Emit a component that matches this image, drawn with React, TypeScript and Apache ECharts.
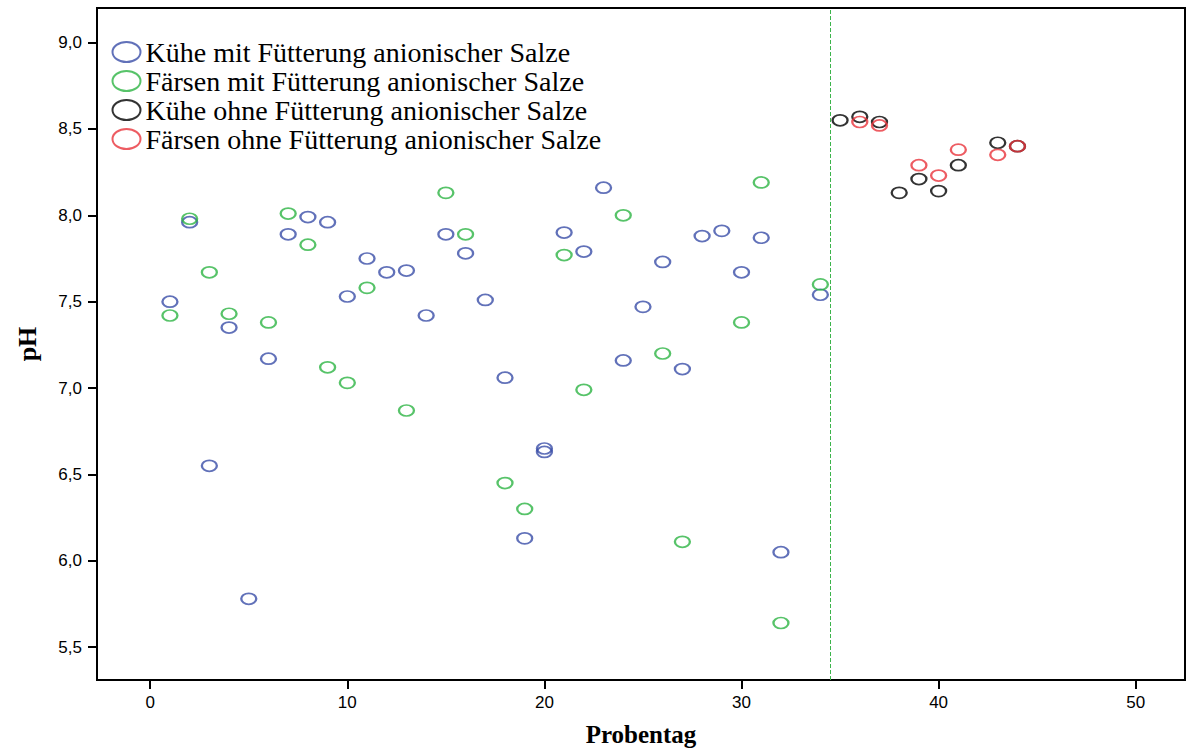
import React, { useEffect, useRef } from "react";
import * as echarts from "echarts";

// Data: [Probentag, pH]
const kueheMit: [number, number][] = [
  [1, 7.5], [2, 7.96], [3, 6.55], [4, 7.35], [5, 5.78], [6, 7.17], [7, 7.89], [8, 7.99],
  [9, 7.96], [10, 7.53], [11, 7.75], [12, 7.67], [13, 7.68], [14, 7.42], [15, 7.89],
  [16, 7.78], [17, 7.51], [18, 7.06], [19, 6.13], [20, 6.65], [20, 6.63], [21, 7.9],
  [22, 7.79], [23, 8.16], [24, 7.16], [25, 7.47], [26, 7.73], [27, 7.11], [28, 7.88],
  [29, 7.91], [30, 7.67], [31, 7.87], [32, 6.05], [34, 7.54],
];
const faersenMit: [number, number][] = [
  [1, 7.42], [2, 7.98], [3, 7.67], [4, 7.43], [6, 7.38], [7, 8.01], [8, 7.83], [9, 7.12],
  [10, 7.03], [11, 7.58], [13, 6.87], [15, 8.13], [16, 7.89], [18, 6.45], [19, 6.3],
  [21, 7.77], [22, 6.99], [24, 8.0], [26, 7.2], [27, 6.11], [30, 7.38], [31, 8.19],
  [32, 5.64], [34, 7.6],
];
const kueheOhne: [number, number][] = [
  [35, 8.55], [36, 8.57], [37, 8.54], [38, 8.13], [39, 8.21], [40, 8.14], [41, 8.29],
  [43, 8.42], [44, 8.4],
];
const faersenOhne: [number, number][] = [
  [36, 8.54], [37, 8.52], [39, 8.29], [40, 8.23], [41, 8.38], [43, 8.35], [44, 8.4],
];
const seriesNames = [
  "Kühe mit Fütterung anionischer Salze",
  "Färsen mit Fütterung anionischer Salze",
  "Kühe ohne Fütterung anionischer Salze",
  "Färsen ohne Fütterung anionischer Salze",
];
const xTicks = [0, 10, 20, 30, 40, 50];
const yTicks = [5.5, 6.0, 6.5, 7.0, 7.5, 8.0, 8.5, 9.0];
const cutoffDay = 34.5;

const colors = ["#3a4ea8", "#2db443", "#000000", "#e8333b"];
const ellipse = "path://M0,5A7,5 0 1,1 14,5A7,5 0 1,1 0,5Z";

export default function App() {
  const ref = useRef<HTMLDivElement>(null);
  useEffect(() => {
    if (!ref.current) return;
    const chart = echarts.init(ref.current, undefined, { renderer: "svg" });
    const datasets = [kueheMit, faersenMit, kueheOhne, faersenOhne];
    const series: any[] = datasets.map((d, i) => ({
      name: seriesNames[i],
      type: "scatter",
      data: d,
      symbol: ellipse,
      symbolSize: [15, 11],
      itemStyle: { color: "none", borderColor: colors[i], borderWidth: 2 },
      emphasis: { disabled: true },
      z: 3 + i,
    }));
    series[1].markLine = {
      silent: true,
      symbol: "none",
      label: { show: false },
      lineStyle: { color: "#3cb44b", type: [4, 2], width: 1 },
      data: [{ xAxis: cutoffDay }],
    };
    chart.setOption({
      animation: false,
      backgroundColor: "#ffffff",
      grid: {
        left: 97,
        right: 1,
        top: 8,
        bottom: 71,
        outerBoundsMode: "none",
        containLabel: false,
        show: true,
        borderColor: "#000",
        borderWidth: 2,
      },
      legend: {
        orient: "vertical",
        left: 105,
        top: 33,
        itemWidth: 28,
        itemHeight: 21,
        itemGap: 1,
        icon: ellipse,
        selectedMode: false,
        textStyle: {
          fontFamily: "Liberation Serif",
          fontSize: 28,
          color: "#000",
        },
        data: seriesNames,
      },
      xAxis: {
        type: "value",
        min: -2.7,
        max: 52.5,
        name: "Probentag",
        nameLocation: "middle",
        nameGap: 42,
        nameTextStyle: { fontFamily: "Liberation Serif", fontWeight: "bold", fontSize: 25, color: "#000" },
        axisLine: { onZero: false, lineStyle: { color: "#000", width: 2 } },
        axisTick: { length: 9, lineStyle: { color: "#000", width: 2 }, customValues: xTicks },
        axisLabel: {
          customValues: xTicks,
          fontFamily: "Liberation Sans",
          fontSize: 17,
          color: "#000",
          margin: 14,
        },
        splitLine: { show: false },
      },
      yAxis: {
        type: "value",
        min: 5.31,
        max: 9.2,
        name: "pH",
        nameLocation: "middle",
        nameGap: 57,
        nameTextStyle: { fontFamily: "Liberation Serif", fontWeight: "bold", fontSize: 26, color: "#000" },
        axisLine: { onZero: false, lineStyle: { color: "#000", width: 2 } },
        axisTick: { length: 9, lineStyle: { color: "#000", width: 2 }, customValues: yTicks },
        axisLabel: {
          customValues: yTicks,
          fontFamily: "Liberation Sans",
          fontSize: 17,
          color: "#000",
          margin: 15,
          formatter: (v: number) => v.toFixed(1).replace(".", ","),
        },
        splitLine: { show: false },
      },
      series,
    });
    return () => chart.dispose();
  }, []);
  return (
    <div
      ref={ref}
      style={{ position: "absolute", left: 0, top: 0, width: 1186, height: 751 }}
    />
  );
}
